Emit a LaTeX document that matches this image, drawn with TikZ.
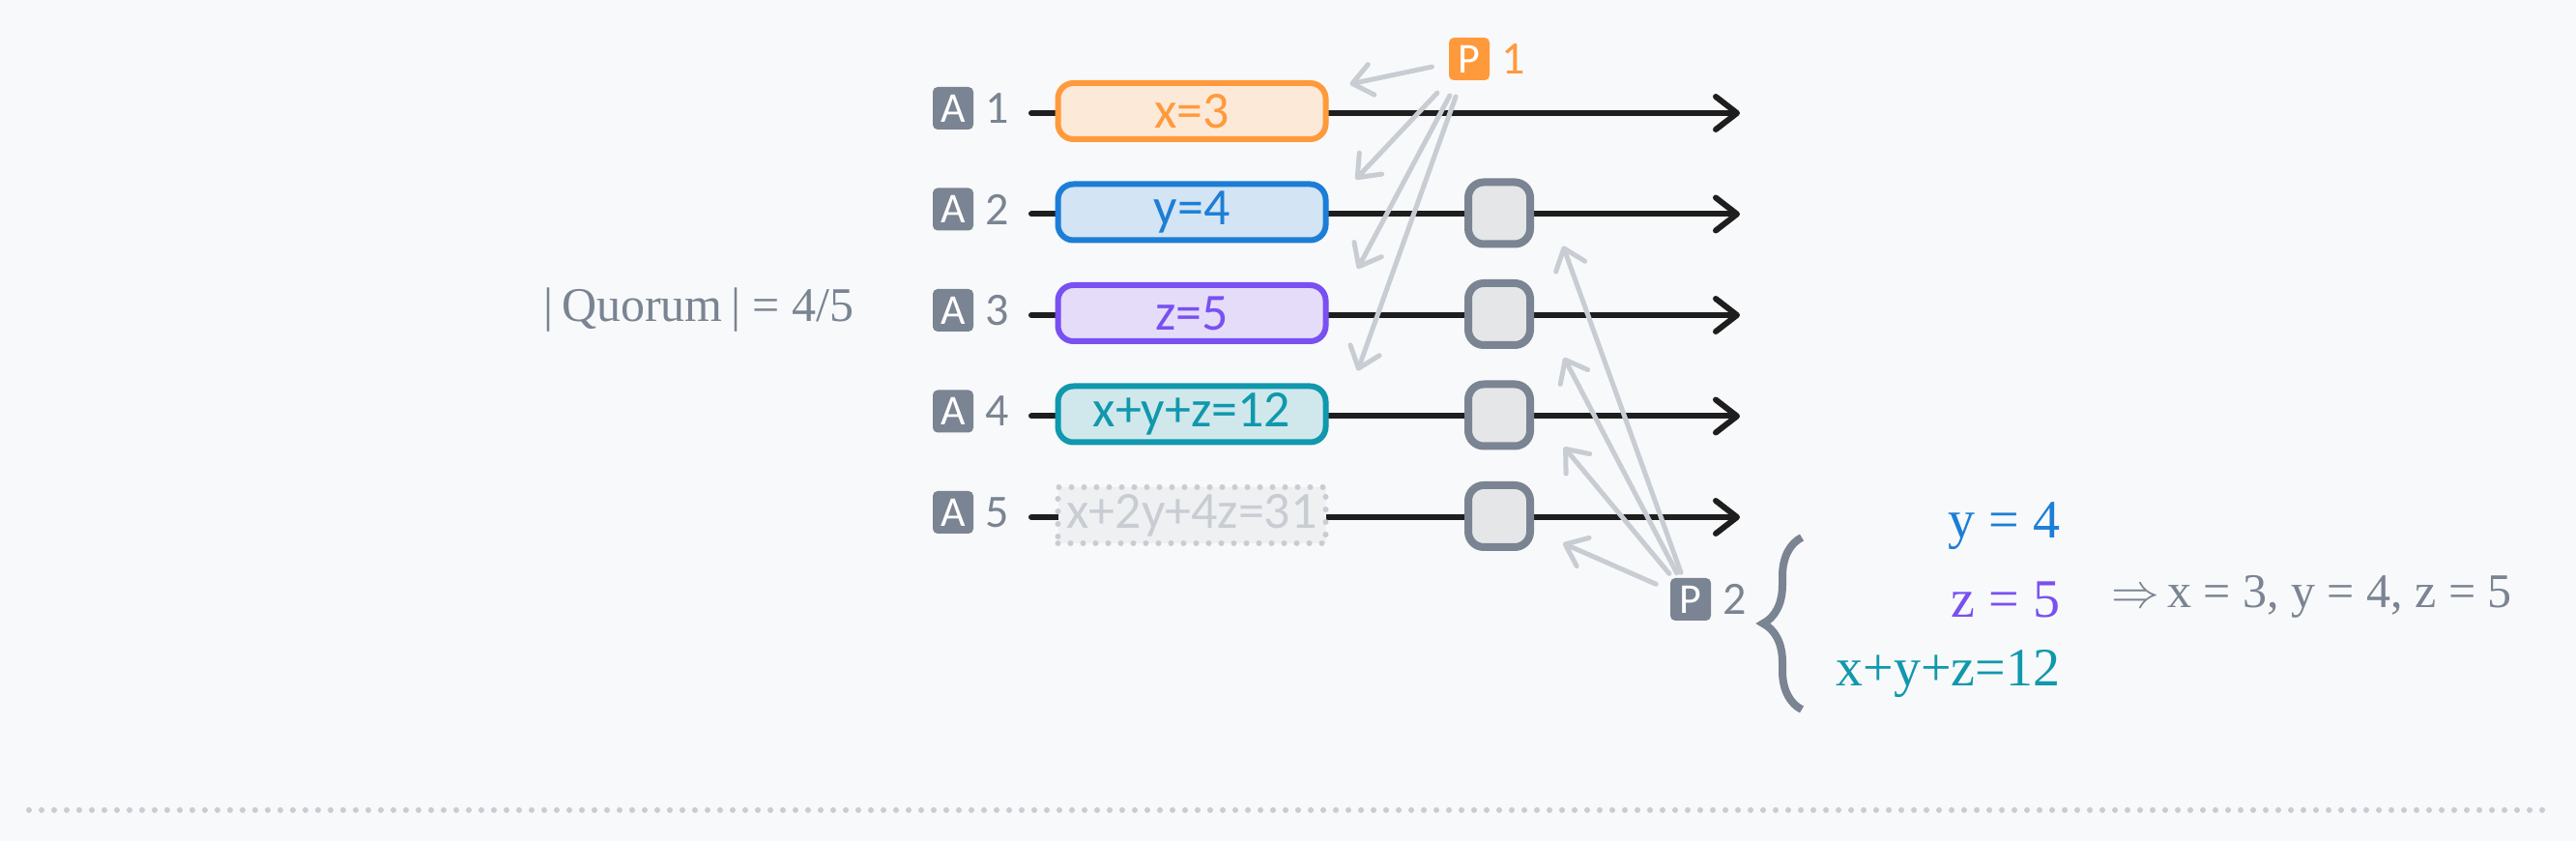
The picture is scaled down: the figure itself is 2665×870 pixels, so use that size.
\documentclass[tikz,border=0pt]{standalone}
\usepackage{fontspec}
\newfontfamily\handfont{Carlito}
\newfontfamily\serifont{Liberation Serif}
\usetikzlibrary{positioning,calc,arrows.meta,decorations.pathreplacing}

\definecolor{paper}{HTML}{F8F9FA}
\definecolor{ink}{HTML}{1E1E1E}
\definecolor{slate}{HTML}{7A8492}
\definecolor{mist}{HTML}{C8CDD3}
\definecolor{slotfill}{HTML}{E5E6E8}
\definecolor{ghostfill}{HTML}{EFF0F2}
\definecolor{orng}{HTML}{FF9A3C}
\definecolor{orngfill}{HTML}{FDE9D8}
\definecolor{blu}{HTML}{1C7ED6}
\definecolor{blufill}{HTML}{D3E4F4}
\definecolor{purp}{HTML}{7950F2}
\definecolor{purpfill}{HTML}{E5DCFA}
\definecolor{teal}{HTML}{1098AD}
\definecolor{tealfill}{HTML}{D0E8EC}

\begin{document}
\begin{tikzpicture}[x=0.5pt,y=-0.5pt]
    \tikzstyle{every node}=[inner sep=0,outer sep=0]
    \tikzstyle{badge}=[fill=slate,rounded corners=2.5pt,minimum width=21pt,minimum height=22pt,text=white,font=\handfont\fontsize{22}{22}\selectfont]
    \tikzstyle{num}=[text=slate,font=\handfont\fontsize{24}{24}\selectfont]
    \tikzstyle{entry}=[line width=3pt,rounded corners=8pt,minimum width=138.5pt,minimum height=29pt,font=\handfont\fontsize{27}{27}\selectfont]
    \tikzstyle{ghost}=[entry,rounded corners=0pt,draw=mist,fill=ghostfill,text=mist,line cap=round,dash pattern=on 0pt off 6.5pt]
    \tikzstyle{slot}=[draw=slate,fill=slotfill,line width=4pt,rounded corners=8pt,minimum size=32pt]
    \tikzstyle{track}=[draw=ink,line width=3pt,line cap=round,->,>={Straight Barb[length=11pt,width=17pt,round]}]
    \tikzstyle{msg}=[draw=mist,line width=2.5pt,line cap=round,->,>={Straight Barb[length=10pt,width=16pt,round]}]
    \tikzstyle{eq}=[anchor=east,font=\serifont\fontsize{28}{28}\selectfont]
    {
        \useasboundingbox[fill=paper] (0,0) rectangle (2665,870);

        % time lines of the acceptors
        \coordinate (l1) at (1067,117);   \coordinate (r1) at (1800,117);
        \coordinate (l2) at (1067,221.5); \coordinate (r2) at (1800,221.5);
        \coordinate (l3) at (1067,326);   \coordinate (r3) at (1800,326);
        \coordinate (l4) at (1067,430.5); \coordinate (r4) at (1800,430.5);
        \coordinate (l5) at (1067,535);   \coordinate (r5) at (1800,535);
        \draw[track] (l1) -- (r1);
        \draw[track] (l2) -- (r2);
        \draw[track] (l3) -- (r3);
        \draw[track] (l4) -- (r4);
        \draw[track] (l5) -- (r5);

        \node[badge] (a1) at (986,112) {A};
        \node[badge] (a2) at (986,216.5) {A};
        \node[badge] (a3) at (986,321) {A};
        \node[badge] (a4) at (986,425.5) {A};
        \node[badge] (a5) at (986,530) {A};
        \node[num,right=6pt of a1] (n1) {1};
        \node[num,right=6pt of a2] (n2) {2};
        \node[num,right=6pt of a3] (n3) {3};
        \node[num,right=6pt of a4] (n4) {4};
        \node[num,right=6pt of a5] (n5) {5};

        \node[entry,draw=orng,fill=orngfill,text=orng] (b1) at (1233,115) {x=3};
        \node[entry,draw=blu,fill=blufill,text=blu] (b2) at (1233,219.5) {y=4};
        \node[entry,draw=purp,fill=purpfill,text=purp] (b3) at (1233,324) {z=5};
        \node[entry,draw=teal,fill=tealfill,text=teal] (b4) at (1233,428.5) {x+y+z=12};
        \node[ghost] (b5) at (1233,533) {x+2y+4z=31};

        \node[slot] (s2) at (1551,220.5) {};
        \node[slot] (s3) at (1551,325) {};
        \node[slot] (s4) at (1551,429.5) {};
        \node[slot] (s5) at (1551,534) {};

        % proposers
        \node[badge,fill=orng] (p1) at (1520,61) {P};
        \node[num,text=orng,right=6pt of p1] (p1n) {1};
        \node[badge] (p2) at (1749,620) {P};
        \node[num,right=6pt of p2] (p2n) {2};

        \path[msg]
            (p1) edge[shorten <=9pt] ($(b1.north east)+(25,1)$)
            (p1) edge[shorten <=9pt] ($(b2.north east)+(31,-5)$)
            (p1) edge[shorten <=9pt] ($(b3.north east)+(33,-17)$)
            (p1) edge[shorten <=9pt] ($(b4.north east)+(33,-16)$);

        \path[msg]
            (p2) edge[shorten <=3pt] ($(s2.south east)+(34,2)$)
            (p2) edge[shorten <=3pt] ($(s3.south east)+(35,13)$)
            (p2) edge[shorten <=3pt] ($(s4.south east)+(35,1)$)
            (p2) edge[shorten <=8pt] ($(s5.south east)+(34,-4)$);

        \node[text=slate,font=\serifont\fontsize{25}{25}\selectfont] (quorum) at (723,321) {|\,Quorum\,| = 4/5};

        % solving the system
        \draw[slate,line width=4pt,decorate,decoration={brace,amplitude=20pt}] (1864,734) -- (1864,556);
        \node[eq,text=blu] (eqy) at (2131,544) {y = 4};
        \node[eq,text=purp] (eqz) at (2131,620) {z = 5};
        \node[eq,text=teal] (eqs) at (2131,697) {x+y+z=12};
        \node[anchor=west,text=slate,font=\serifont\fontsize{25}{25}\selectfont] (result) at (2184,617) {$\Rightarrow$\,x = 3, y = 4, z = 5};

        \draw[mist,line width=3pt,line cap=round,dash pattern=on 0pt off 6.5pt] (30,838) -- (2632,838);
    }
\end{tikzpicture}
\end{document}
